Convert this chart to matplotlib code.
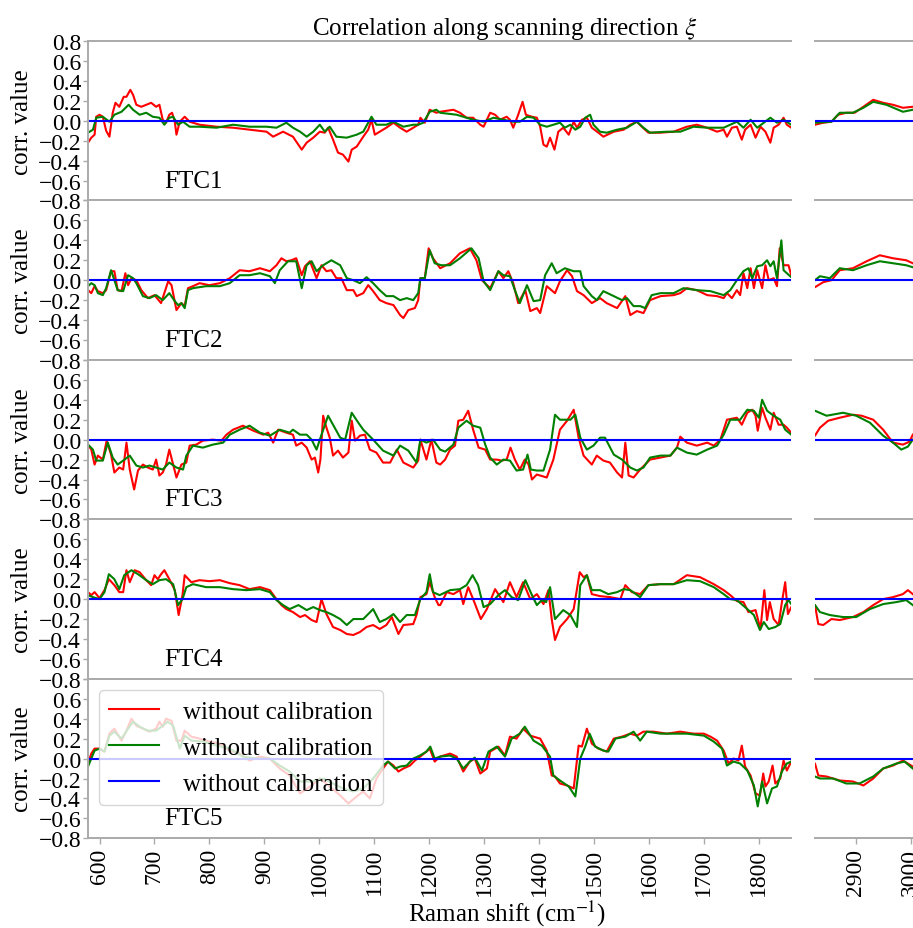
import matplotlib
matplotlib.use("Agg")
import matplotlib.pyplot as plt

plt.rcParams['font.family'] = ['Liberation Serif', 'DejaVu Serif']
plt.rcParams['mathtext.fontset'] = 'stix'

# ---------------- data (Raman shift cm^-1, correlation value) ----------------
FTC1_RED = [(579,-0.22),(585,-0.17),(591,-0.14),(594,0.04),(600,0.06),(606,0.04),(612,-0.10),(618,-0.16),(624,0.08),(629,0.18),(636,0.14),(644,0.24),(649,0.24),(656,0.31),(661,0.26),(667,0.16),(676,0.14),(685,0.16),(694,0.18),(703,0.14),(709,0.16),(715,0.01),(721,-0.02),(727,0.06),(732,0.08),(737,-0.01),(740,-0.14),(746,-0.01),(755,0.04),(764,-0.01),(782,-0.04),(813,-0.06),(843,-0.07),(873,-0.09),(904,-0.11),(916,-0.16),(934,-0.11),(952,-0.16),(968,-0.29),(977,-0.22),(989,-0.17),(1001,-0.11),(1010,-0.12),(1016,-0.07),(1025,-0.19),(1034,-0.32),(1043,-0.34),(1053,-0.41),(1059,-0.29),(1068,-0.26),(1080,-0.16),(1089,-0.09),(1095,0.01),(1101,-0.14),(1110,-0.11),(1122,-0.07),(1135,-0.02),(1147,-0.07),(1159,-0.11),(1171,-0.07),(1180,-0.04),(1184,0.03),(1192,-0.02),(1201,0.11),(1213,0.08),(1220,0.09),(1244,0.11),(1256,0.08),(1268,0.03),(1280,0.03),(1293,-0.04),(1299,-0.06),(1311,0.08),(1320,0.06),(1329,0.01),(1341,0.04),(1347,0.01),(1353,-0.07),(1362,0.06),(1370,0.19),(1376,0.06),(1387,0.04),(1396,0.03),(1402,-0.06),(1408,-0.24),(1414,-0.26),(1420,-0.17),(1428,-0.29),(1435,-0.11),(1444,-0.07),(1454,-0.14),(1463,-0.01),(1469,-0.07),(1478,0.01),(1487,0.03),(1496,-0.07),(1508,-0.12),(1517,-0.16),(1536,-0.11),(1554,-0.09),(1566,-0.04),(1578,-0.01),(1587,-0.06),(1599,-0.12),(1621,-0.12),(1645,-0.11),(1669,-0.06),(1687,-0.04),(1706,-0.07),(1724,-0.11),(1736,-0.09),(1742,-0.16),(1751,-0.07),(1760,-0.06),(1769,-0.19),(1775,-0.09),(1785,-0.04),(1794,-0.17),(1803,-0.06),(1812,-0.11),(1821,-0.22),(1827,-0.07),(1836,-0.04),(1845,0.03),(1851,-0.04),(1859,-0.07),
            (2826,-0.04),(2841,-0.02),(2856,-0.01),(2868,0.06),(2883,0.08),(2898,0.08),(2914,0.14),(2932,0.21),(2950,0.18),(2968,0.16),(2986,0.13),(3004,0.14)]
FTC1_GREEN = [(579,-0.12),(588,-0.09),(594,0.03),(606,0.04),(618,-0.01),(627,0.06),(640,0.09),(653,0.16),(661,0.11),(673,0.06),(685,0.08),(697,0.04),(709,0.03),(718,-0.04),(727,0.03),(734,0.04),(743,-0.04),(752,-0.01),(764,-0.06),(782,-0.06),(813,-0.07),(843,-0.04),(873,-0.06),(904,-0.06),(922,-0.07),(940,-0.02),(952,-0.07),(965,-0.11),(977,-0.16),(989,-0.11),(1001,-0.04),(1010,-0.11),(1019,-0.06),(1031,-0.16),(1050,-0.17),(1068,-0.14),(1080,-0.11),(1095,0.04),(1104,-0.04),(1122,-0.04),(1135,-0.01),(1153,-0.06),(1171,-0.04),(1180,-0.04),(1189,-0.02),(1201,0.09),(1213,0.11),(1220,0.08),(1250,0.06),(1268,0.03),(1280,0.01),(1299,-0.01),(1317,0.03),(1335,0.01),(1353,-0.01),(1365,-0.01),(1378,0.04),(1390,0.03),(1402,-0.04),(1414,-0.06),(1426,-0.04),(1438,-0.02),(1447,-0.07),(1457,-0.04),(1466,-0.09),(1475,-0.06),(1484,0.03),(1493,0.06),(1499,-0.04),(1511,-0.11),(1523,-0.12),(1542,-0.09),(1560,-0.07),(1578,-0.01),(1590,-0.07),(1602,-0.12),(1633,-0.11),(1657,-0.11),(1681,-0.06),(1706,-0.07),(1736,-0.07),(1748,-0.04),(1760,-0.01),(1772,-0.07),(1785,0.01),(1797,-0.07),(1809,-0.02),(1821,0.03),(1833,-0.02),(1845,0.01),(1859,-0.04),
              (2826,-0.02),(2856,-0.01),(2871,0.08),(2895,0.08),(2914,0.13),(2932,0.19),(2956,0.16),(2986,0.09),(3004,0.11)]

FTC2_RED = [(579,-0.10),(585,-0.13),(591,-0.06),(597,-0.11),(606,-0.13),(612,-0.10),(621,0.09),(627,0.09),(633,-0.10),(640,-0.11),(647,0.07),(652,-0.05),(658,0.02),(667,0.00),(676,-0.10),(688,-0.18),(700,-0.15),(712,-0.23),(725,-0.01),(731,-0.05),(740,-0.30),(749,-0.23),(755,-0.26),(761,-0.08),(770,-0.06),(782,-0.03),(800,-0.05),(819,-0.03),(837,0.02),(855,0.10),(873,0.09),(892,0.12),(910,0.09),(922,0.15),(931,0.22),(940,0.19),(949,0.20),(958,0.22),(968,0.05),(974,0.14),(983,0.19),(995,0.02),(1004,0.15),(1013,0.09),(1022,0.10),(1031,0.02),(1040,0.02),(1050,-0.10),(1062,-0.10),(1068,-0.16),(1080,-0.13),(1089,-0.05),(1098,-0.11),(1110,-0.20),(1122,-0.23),(1135,-0.25),(1147,-0.35),(1153,-0.38),(1162,-0.30),(1174,-0.28),(1180,-0.20),(1184,0.02),(1192,0.02),(1199,0.32),(1207,0.22),(1220,0.12),(1238,0.17),(1256,0.27),(1274,0.32),(1286,0.20),(1296,0.00),(1311,-0.08),(1326,0.09),(1335,0.02),(1344,0.09),(1353,-0.03),(1362,-0.23),(1375,-0.10),(1384,-0.31),(1396,-0.28),(1402,-0.33),(1414,-0.06),(1429,-0.13),(1438,-0.01),(1451,0.10),(1460,0.04),(1469,-0.11),(1481,-0.15),(1496,-0.23),(1511,-0.18),(1523,-0.23),(1542,-0.28),(1557,-0.16),(1566,-0.35),(1578,-0.31),(1590,-0.33),(1602,-0.20),(1621,-0.16),(1645,-0.15),(1657,-0.13),(1669,-0.08),(1687,-0.10),(1706,-0.15),(1724,-0.16),(1736,-0.18),(1742,-0.13),(1751,-0.18),(1760,-0.10),(1766,-0.15),(1772,0.07),(1779,-0.08),(1785,0.12),(1791,-0.08),(1797,0.10),(1806,-0.08),(1812,0.15),(1818,0.00),(1827,0.02),(1833,-0.06),(1838,0.32),(1845,0.15),(1854,0.15),(1859,0.05),
            (2826,-0.07),(2841,-0.02),(2856,0.00),(2871,0.10),(2895,0.12),(2920,0.19),(2944,0.25),(2968,0.22),(2992,0.20),(3004,0.17)]
FTC2_GREEN = [(579,-0.06),(585,-0.03),(591,-0.05),(597,-0.13),(606,-0.15),(612,-0.08),(621,0.10),(627,0.00),(633,-0.10),(643,-0.11),(652,0.05),(661,0.02),(667,-0.03),(679,-0.16),(691,-0.18),(703,-0.15),(715,-0.20),(727,-0.13),(737,-0.21),(743,-0.25),(749,-0.23),(755,-0.28),(761,-0.10),(770,-0.08),(794,-0.06),(819,-0.06),(837,-0.03),(855,0.05),(873,0.05),(892,0.07),(910,0.04),(919,-0.03),(928,0.10),(943,0.19),(958,0.19),(968,-0.08),(977,0.15),(986,0.19),(995,0.09),(1007,0.15),(1022,0.20),(1038,0.15),(1050,0.02),(1062,0.00),(1074,-0.03),(1086,0.03),(1098,-0.03),(1110,-0.10),(1122,-0.16),(1135,-0.16),(1147,-0.20),(1159,-0.18),(1171,-0.20),(1180,-0.13),(1184,0.02),(1192,0.02),(1201,0.30),(1210,0.17),(1222,0.15),(1238,0.15),(1256,0.22),(1277,0.32),(1290,0.22),(1299,-0.01),(1311,-0.10),(1326,0.09),(1335,0.05),(1347,0.04),(1356,-0.10),(1365,-0.23),(1378,-0.05),(1390,-0.21),(1402,-0.20),(1411,0.05),(1423,0.17),(1432,0.07),(1447,0.12),(1463,0.09),(1475,0.09),(1481,-0.06),(1496,-0.16),(1505,-0.20),(1517,-0.11),(1536,-0.16),(1551,-0.20),(1560,-0.18),(1572,-0.26),(1584,-0.26),(1593,-0.28),(1605,-0.15),(1621,-0.13),(1645,-0.13),(1663,-0.08),(1687,-0.10),(1712,-0.11),(1736,-0.15),(1748,-0.10),(1760,0.00),(1772,0.09),(1781,0.12),(1788,0.02),(1797,0.14),(1806,0.15),(1815,0.20),(1821,0.14),(1827,0.19),(1833,0.02),(1841,0.40),(1845,0.10),(1851,0.07),(1859,0.03),
              (2826,0.00),(2835,0.04),(2853,0.02),(2871,0.12),(2895,0.10),(2920,0.15),(2944,0.19),(2968,0.17),(2992,0.15),(3004,0.13)]

FTC3_RED = [(579,-0.05),(585,-0.10),(591,-0.25),(597,-0.16),(606,-0.20),(613,-0.01),(621,-0.15),(627,-0.33),(636,-0.28),(643,-0.30),(649,-0.03),(655,-0.30),(663,-0.50),(670,-0.31),(679,-0.25),(688,-0.28),(697,-0.30),(703,-0.20),(709,-0.36),(715,-0.33),(721,-0.25),(727,-0.10),(734,-0.25),(740,-0.38),(749,-0.25),(758,-0.23),(764,-0.06),(776,-0.05),(788,-0.01),(806,0.00),(822,-0.01),(831,0.05),(843,0.10),(861,0.14),(880,0.09),(898,0.05),(907,0.07),(916,-0.03),(925,0.10),(940,0.07),(952,0.05),(958,-0.06),(968,-0.03),(977,-0.08),(986,-0.20),(992,-0.18),(998,-0.33),(1002,-0.20),(1007,0.24),(1013,0.12),(1019,0.02),(1025,-0.16),(1034,-0.11),(1043,-0.18),(1053,-0.13),(1059,0.19),(1065,-0.01),(1074,0.04),(1083,0.05),(1092,-0.10),(1104,-0.13),(1116,-0.23),(1129,-0.23),(1141,-0.10),(1153,-0.23),(1171,-0.28),(1180,-0.21),(1184,0.00),(1195,-0.20),(1204,0.00),(1213,-0.23),(1220,-0.25),(1229,-0.20),(1238,-0.10),(1247,-0.06),(1253,0.19),(1262,0.20),(1271,0.29),(1280,0.10),(1290,-0.08),(1302,-0.10),(1311,-0.20),(1323,-0.20),(1332,-0.21),(1341,-0.20),(1348,-0.08),(1356,-0.20),(1365,-0.30),(1374,-0.20),(1381,-0.25),(1387,-0.40),(1396,-0.35),(1414,-0.38),(1426,-0.20),(1438,0.10),(1451,0.19),(1463,0.30),(1472,0.02),(1481,-0.16),(1496,-0.25),(1505,-0.16),(1517,-0.21),(1529,-0.23),(1542,-0.33),(1551,-0.38),(1557,-0.03),(1563,-0.36),(1572,-0.38),(1584,-0.30),(1602,-0.20),(1621,-0.18),(1639,-0.16),(1651,-0.08),(1657,0.03),(1669,-0.03),(1687,-0.06),(1706,-0.03),(1718,-0.06),(1730,0.00),(1742,0.20),(1760,0.22),(1769,0.15),(1779,0.27),(1788,0.30),(1794,0.24),(1798,0.09),(1806,0.32),(1812,0.22),(1821,0.10),(1827,0.27),(1836,0.15),(1845,0.15),(1851,0.12),(1859,0.07),
            (2826,0.04),(2835,0.12),(2850,0.19),(2871,0.22),(2895,0.25),(2911,0.24),(2932,0.20),(2950,0.10),(2968,-0.03),(2986,-0.05),(2998,-0.02),(3004,0.05)]
FTC3_GREEN = [(579,-0.05),(588,-0.10),(594,-0.21),(606,-0.21),(615,-0.03),(624,-0.18),(633,-0.25),(643,-0.21),(655,-0.16),(667,-0.26),(679,-0.28),(691,-0.26),(703,-0.28),(715,-0.30),(727,-0.23),(740,-0.28),(752,-0.30),(758,-0.16),(770,-0.06),(788,-0.08),(806,-0.05),(825,-0.03),(837,0.05),(855,0.10),(873,0.14),(892,0.07),(910,0.04),(928,0.10),(946,0.07),(952,0.10),(965,0.05),(977,0.05),(986,0.00),(995,-0.10),(1004,0.05),(1016,0.24),(1025,0.15),(1038,0.02),(1047,0.00),(1059,0.27),(1071,0.17),(1080,0.10),(1098,0.00),(1116,-0.11),(1135,-0.16),(1147,-0.06),(1162,-0.11),(1177,-0.23),(1184,0.00),(1195,-0.03),(1207,0.00),(1220,-0.10),(1229,-0.12),(1244,-0.05),(1253,0.12),(1268,0.19),(1280,0.14),(1293,0.12),(1302,-0.05),(1311,-0.18),(1323,-0.25),(1335,-0.20),(1347,-0.21),(1359,-0.31),(1371,-0.30),(1379,-0.15),(1385,-0.30),(1396,-0.31),(1408,-0.31),(1420,-0.10),(1429,0.25),(1438,0.20),(1457,0.20),(1466,0.25),(1475,0.02),(1487,-0.10),(1499,-0.06),(1511,0.02),(1520,0.02),(1536,-0.15),(1551,-0.20),(1566,-0.28),(1578,-0.31),(1590,-0.28),(1602,-0.18),(1621,-0.16),(1639,-0.16),(1651,-0.08),(1669,-0.13),(1687,-0.15),(1706,-0.10),(1724,-0.06),(1736,0.05),(1748,0.20),(1766,0.20),(1779,0.30),(1791,0.29),(1800,0.22),(1806,0.40),(1815,0.29),(1827,0.24),(1839,0.20),(1848,0.10),(1859,0.05),
              (2826,0.29),(2847,0.24),(2877,0.27),(2901,0.24),(2926,0.17),(2950,0.04),(2968,-0.03),(2983,-0.10),(2995,-0.07),(3004,0.00)]

FTC4_RED = [(579,0.07),(585,0.04),(591,0.07),(600,0.01),(609,0.09),(617,0.20),(627,0.14),(636,0.07),(643,0.07),(649,0.29),(655,0.17),(664,0.29),(673,0.27),(685,0.19),(694,0.14),(700,0.24),(706,0.20),(712,0.25),(718,0.29),(727,0.20),(737,0.09),(744,-0.16),(751,0.04),(755,0.24),(767,0.17),(782,0.19),(800,0.18),(819,0.19),(837,0.16),(855,0.14),(873,0.10),(892,0.12),(910,0.09),(922,0.00),(931,-0.06),(940,-0.10),(952,-0.13),(965,-0.18),(974,-0.16),(986,-0.21),(995,-0.23),(1004,0.00),(1013,-0.15),(1025,-0.28),(1038,-0.31),(1050,-0.35),(1062,-0.36),(1074,-0.33),(1086,-0.28),(1098,-0.26),(1110,-0.30),(1122,-0.26),(1132,-0.18),(1144,-0.35),(1153,-0.26),(1171,-0.25),(1177,-0.16),(1184,0.02),(1195,0.05),(1201,0.17),(1210,0.02),(1217,-0.06),(1220,-0.06),(1232,0.07),(1244,0.05),(1256,0.09),(1262,-0.05),(1271,0.12),(1280,0.00),(1294,-0.20),(1305,-0.10),(1320,0.10),(1335,-0.03),(1347,0.17),(1359,0.02),(1371,0.17),(1384,0.00),(1396,0.05),(1408,-0.05),(1417,0.09),(1423,-0.20),(1429,-0.41),(1438,-0.28),(1451,-0.20),(1463,-0.10),(1474,0.27),(1481,0.22),(1487,0.24),(1496,0.05),(1511,0.03),(1529,0.02),(1548,0.00),(1557,0.14),(1569,0.07),(1584,0.05),(1599,0.14),(1621,0.15),(1645,0.15),(1669,0.24),(1693,0.22),(1718,0.15),(1736,0.09),(1748,0.04),(1760,-0.02),(1772,-0.03),(1781,-0.13),(1794,-0.11),(1803,-0.30),(1810,0.09),(1815,-0.21),(1820,-0.03),(1827,-0.20),(1836,-0.26),(1842,-0.03),(1848,0.17),(1853,-0.15),(1859,-0.08),
            (2826,-0.06),(2832,-0.25),(2841,-0.26),(2856,-0.20),(2871,-0.21),(2895,-0.18),(2914,-0.13),(2932,-0.06),(2950,0.00),(2968,0.02),(2986,0.05),(2995,0.09),(3004,0.05)]
FTC4_GREEN = [(579,0.04),(588,0.02),(600,0.00),(609,0.07),(617,0.25),(627,0.20),(636,0.10),(645,0.24),(658,0.29),(670,0.25),(685,0.19),(697,0.15),(709,0.19),(721,0.20),(734,0.15),(743,-0.06),(751,0.00),(758,0.12),(770,0.15),(794,0.12),(819,0.12),(843,0.10),(867,0.09),(892,0.10),(910,0.07),(922,-0.01),(934,-0.06),(946,-0.10),(962,-0.06),(977,-0.11),(989,-0.08),(1001,-0.11),(1013,-0.13),(1025,-0.16),(1038,-0.20),(1050,-0.26),(1062,-0.20),(1080,-0.20),(1098,-0.10),(1110,-0.23),(1122,-0.20),(1135,-0.15),(1147,-0.23),(1159,-0.16),(1174,-0.16),(1184,0.00),(1195,0.07),(1201,0.25),(1207,0.07),(1219,0.04),(1238,0.09),(1256,0.10),(1268,0.14),(1279,0.24),(1289,0.14),(1299,-0.08),(1311,-0.05),(1326,0.04),(1338,0.09),(1350,0.02),(1362,-0.01),(1375,0.19),(1387,0.04),(1396,-0.06),(1405,-0.01),(1413,-0.03),(1420,0.12),(1429,-0.20),(1444,-0.11),(1457,-0.16),(1469,-0.28),(1475,0.14),(1487,0.24),(1496,0.09),(1511,0.09),(1526,0.05),(1542,0.07),(1554,0.10),(1566,0.09),(1584,0.02),(1599,0.14),(1621,0.15),(1645,0.15),(1669,0.19),(1693,0.18),(1718,0.12),(1736,0.05),(1748,0.00),(1760,-0.01),(1779,-0.10),(1791,-0.16),(1802,-0.31),(1809,-0.23),(1818,-0.30),(1830,-0.28),(1839,-0.25),(1848,-0.06),(1854,-0.01),(1859,-0.05),
              (2826,-0.06),(2835,-0.13),(2853,-0.16),(2877,-0.18),(2901,-0.18),(2926,-0.10),(2950,-0.05),(2974,-0.03),(2992,-0.01),(3004,-0.06)]

FTC5_RED = [(579,-0.05),(585,0.05),(591,0.10),(600,0.10),(609,0.07),(618,0.25),(627,0.30),(640,0.18),(649,0.28),(658,0.40),(667,0.33),(679,0.30),(691,0.27),(703,0.30),(709,0.37),(715,0.32),(721,0.40),(731,0.38),(740,0.18),(749,0.18),(755,0.28),(767,0.22),(782,0.20),(800,0.17),(819,0.15),(837,0.08),(855,0.05),(873,-0.02),(892,0.02),(910,0.00),(928,-0.10),(946,-0.17),(965,-0.35),(983,-0.28),(1001,-0.20),(1019,-0.28),(1038,-0.37),(1053,-0.45),(1068,-0.38),(1080,-0.33),(1092,-0.40),(1104,-0.20),(1116,-0.10),(1125,-0.03),(1135,-0.07),(1144,-0.13),(1153,-0.10),(1165,-0.07),(1174,-0.02),(1186,0.03),(1195,0.07),(1201,0.10),(1210,-0.03),(1220,0.02),(1238,0.05),(1250,0.02),(1262,-0.13),(1274,-0.03),(1283,0.00),(1293,-0.15),(1305,-0.10),(1311,0.07),(1326,0.12),(1338,0.03),(1347,0.22),(1359,0.20),(1371,0.30),(1384,0.23),(1402,0.20),(1414,0.08),(1423,-0.17),(1429,-0.18),(1438,-0.25),(1451,-0.27),(1463,-0.30),(1472,0.13),(1478,0.12),(1487,0.30),(1496,0.15),(1508,0.10),(1523,0.07),(1536,0.20),(1551,0.22),(1566,0.25),(1578,0.23),(1590,0.27),(1608,0.27),(1633,0.25),(1657,0.27),(1681,0.25),(1700,0.25),(1712,0.22),(1724,0.18),(1736,0.08),(1745,-0.05),(1754,0.00),(1763,-0.02),(1769,0.13),(1775,-0.08),(1785,-0.17),(1794,-0.35),(1802,-0.37),(1808,-0.15),(1812,-0.28),(1818,-0.23),(1825,-0.07),(1830,-0.25),(1839,-0.20),(1845,-0.02),(1851,-0.12),(1859,-0.03),
            (2826,-0.05),(2832,-0.17),(2847,-0.18),(2871,-0.22),(2895,-0.23),(2914,-0.27),(2932,-0.20),(2950,-0.10),(2968,-0.07),(2986,-0.02),(3004,-0.08)]
FTC5_GREEN = [(579,-0.08),(585,0.00),(591,0.08),(600,0.10),(609,0.07),(618,0.23),(627,0.27),(640,0.20),(652,0.30),(661,0.37),(673,0.32),(688,0.28),(703,0.28),(715,0.33),(724,0.37),(734,0.33),(746,0.10),(755,0.23),(767,0.18),(788,0.17),(813,0.13),(837,0.10),(861,0.02),(886,0.00),(910,0.00),(928,-0.07),(946,-0.13),(965,-0.23),(986,-0.23),(1007,-0.20),(1025,-0.25),(1043,-0.30),(1062,-0.33),(1080,-0.30),(1098,-0.20),(1116,-0.07),(1125,-0.03),(1138,-0.10),(1147,-0.08),(1159,-0.07),(1171,0.00),(1183,0.03),(1195,0.07),(1202,0.12),(1210,0.00),(1220,0.02),(1238,0.03),(1250,0.00),(1262,-0.10),(1274,-0.03),(1283,0.01),(1296,-0.12),(1308,0.07),(1323,0.12),(1338,0.02),(1350,0.20),(1365,0.25),(1374,0.32),(1390,0.18),(1405,0.13),(1420,0.02),(1426,-0.17),(1438,-0.22),(1454,-0.28),(1466,-0.38),(1475,0.00),(1484,0.12),(1492,0.25),(1502,0.12),(1517,0.08),(1526,0.07),(1539,0.20),(1557,0.22),(1572,0.27),(1584,0.18),(1596,0.27),(1621,0.25),(1645,0.25),(1669,0.25),(1700,0.23),(1718,0.17),(1733,0.10),(1742,-0.07),(1754,-0.03),(1766,-0.05),(1779,-0.12),(1791,-0.27),(1798,-0.48),(1806,-0.23),(1815,-0.45),(1824,-0.30),(1833,-0.28),(1842,-0.13),(1851,-0.05),(1859,-0.03),
              (2826,-0.18),(2835,-0.20),(2859,-0.20),(2883,-0.25),(2907,-0.25),(2932,-0.18),(2950,-0.10),(2974,-0.05),(2989,-0.03),(3004,-0.10)]

ROW_LABELS = ["FTC1", "FTC2", "FTC3", "FTC4", "FTC5"]
RED_SERIES = [FTC1_RED, FTC2_RED, FTC3_RED, FTC4_RED, FTC5_RED]
GREEN_SERIES = [FTC1_GREEN, FTC2_GREEN, FTC3_GREEN, FTC4_GREEN, FTC5_GREEN]
BASELINE = 0.0
LEGEND_LABELS = ["without calibration", "without calibration", "without calibration"]
Y_TICKS = [0.8, 0.6, 0.4, 0.2, 0.0, -0.2, -0.4, -0.6, -0.8]
X_TICKS_LEFT = [600, 700, 800, 900, 1000, 1100, 1200, 1300, 1400, 1500, 1600, 1700, 1800]
X_TICKS_RIGHT = [2900, 3000]
XLIM_LEFT = (579, 1858)
XLIM_RIGHT = (2826, 3050)

# ---------------- figure ----------------
W, H = 913, 929
fig = plt.figure(figsize=(W / 100, H / 100), dpi=100)

FS = 18      # labels, legend, title
TFS = 17     # tick labels
SPINE_C = '#aaaaaa'
left_x0 = 88 / W
left_w = (790.7 - 88) / W
right_x0 = 815 / W
px_per_unit = (790.7 - 88) / (XLIM_LEFT[1] - XLIM_LEFT[0])
right_w = (XLIM_RIGHT[1] - XLIM_RIGHT[0]) * px_per_unit / W
top_px, bot_px = 42.0, 839.3
row_h_px = (bot_px - top_px) / 5


def style(ax, show_left, bottom_row, first_row):
    ax.spines['right'].set_visible(False)
    ax.spines['left'].set_visible(show_left)
    for s in ['top', 'bottom', 'left']:
        ax.spines[s].set_color(SPINE_C)
        ax.spines[s].set_linewidth(1.4)
    ax.set_ylim(-0.8, 0.8)
    ax.set_yticks(Y_TICKS)
    ax.tick_params(axis='y', colors=SPINE_C, labelcolor='black', labelsize=TFS,
                   length=3.5, width=1, pad=1.5, left=show_left, labelleft=show_left)
    ax.tick_params(axis='x', colors=SPINE_C, labelcolor='black', labelsize=TFS,
                   length=4, width=1, pad=3, bottom=bottom_row, labelbottom=bottom_row,
                   labelrotation=90)
    labels = [f"{v:.1f}".replace('-', '\u2212') for v in Y_TICKS]
    if not first_row:
        # the top label coincides with the "-0.8" of the row above
        labels[0] = ''
    ax.set_yticklabels(labels)


for r in range(5):
    y0 = 1 - (top_px + row_h_px * (r + 1)) / H
    h = row_h_px / H
    axl = fig.add_axes([left_x0, y0, left_w, h])
    axr = fig.add_axes([right_x0, y0, right_w, h])
    rx, ry = zip(*sorted(RED_SERIES[r]))
    gx, gy = zip(*sorted(GREEN_SERIES[r]))
    for ax in (axl, axr):
        ax.plot(rx, ry, color='red', lw=1.5, label=LEGEND_LABELS[0])
        ax.plot(gx, gy, color='green', lw=1.5, label=LEGEND_LABELS[1])
        ax.axhline(BASELINE, color='blue', lw=1.5, label=LEGEND_LABELS[2])
    axl.set_xlim(*XLIM_LEFT)
    axr.set_xlim(*XLIM_RIGHT)
    axl.set_xticks(X_TICKS_LEFT)
    axr.set_xticks(X_TICKS_RIGHT)
    style(axl, True, r == 4, r == 0)
    style(axr, False, r == 4, r == 0)
    axl.set_ylabel("corr. value", fontsize=FS)
    axl.yaxis.set_label_coords(-0.078, 0.5)
    axl.text(0.108, 0.125, ROW_LABELS[r], transform=axl.transAxes,
             fontsize=FS, va='center', ha='left')
    if r == 4:
        axl.legend(loc='upper left', fontsize=FS, framealpha=0.8,
                   borderaxespad=0.45, handlelength=2.0, labelspacing=0.55,
                   borderpad=0.4, handletextpad=0.95)

fig.text(505 / W, 1 - 28 / H, r"Correlation along scanning direction $\xi$",
         fontsize=FS, ha='center', va='center')
fig.text(507 / W, 1 - 914 / H, r"Raman shift (cm$^{-1}$)",
         fontsize=FS, ha='center', va='center')

fig.savefig("out.png", dpi=100)
